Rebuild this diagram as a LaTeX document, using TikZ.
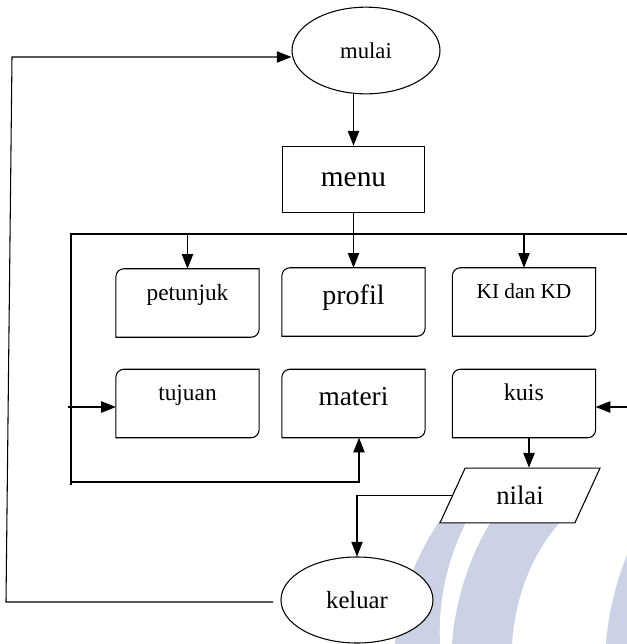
\documentclass[tikz,border=0pt]{standalone}
\usepackage{fontspec}
\setmainfont{Liberation Serif}
\usetikzlibrary{arrows.meta,shapes.geometric}
\definecolor{watermark}{RGB}{204,210,230}

\tikzset{
  garis/.style={line width=0.8pt},
  alur/.style={line width=0.8pt,-{Triangle[length=11pt,width=8.5pt]}},
  terminal/.style={ellipse,draw,line width=0.8pt,fill=white,inner sep=0pt},
  proses/.style={rectangle,draw,line width=0.8pt,minimum width=107pt,minimum height=50pt,inner sep=0pt},
  pilihan/.style={rectangle,minimum width=107pt,minimum height=51pt,inner sep=0pt},
  data/.style={trapezium,trapezium left angle=60,trapezium right angle=120,trapezium stretches=true,
    draw,line width=0.8pt,fill=white,minimum width=120pt,minimum height=41pt,inner sep=0pt}
}

\begin{document}
\begin{tikzpicture}[x=0.75pt,y=-0.75pt]
\useasboundingbox (0,0) rectangle (627,644);

%Shape: watermark
\fill[watermark] (440,520) .. controls (420,550) and (398,595) .. (395,644) -- (440,644) .. controls (438,600) and (447,560) .. (467,520) -- cycle;
\fill[watermark] (492,520) .. controls (470,555) and (455,600) .. (452,644) -- (512,644) .. controls (515,600) and (530,555) .. (562,520) -- cycle;
\fill[watermark] (627,555) .. controls (615,585) and (608,615) .. (606,644) -- (627,644) -- cycle;

%Shape: Ellipse
\node[terminal,minimum width=111pt,minimum height=65pt,font=\fontsize{17}{20}\selectfont] (mulai) at (366,50.5) {mulai};
%Shape: Rectangle
\node[proses,font=\fontsize{22}{26}\selectfont] (menu) at (353.5,179.5) {menu};

%Shape: Round Diagonal Corner Rectangle
\node[pilihan,font=\fontsize{17.5}{21}\selectfont,text height=12pt,text depth=15.8pt] (petunjuk) at (187.5,303) {petunjuk};
\node[pilihan,font=\fontsize{21}{25}\selectfont,text height=15pt,text depth=11.6pt] (profil) at (353.5,302) {profil};
\node[pilihan,font=\fontsize{16}{19}\selectfont,text height=11pt,text depth=16pt] (kikd) at (524,302) {KI dan KD};
\node[pilihan,font=\fontsize{17.5}{21}\selectfont,text height=12pt,text depth=15.8pt] (tujuan) at (187.5,403.5) {tujuan};
\node[pilihan,font=\fontsize{20.5}{24}\selectfont,text height=15pt,text depth=11.6pt] (materi) at (353.5,403.5) {materi};
\node[pilihan,font=\fontsize{18}{21}\selectfont,text height=12pt,text depth=15.8pt] (kuis) at (524,403.5) {kuis};
\foreach \n in {petunjuk,profil,kikd,tujuan,materi,kuis}
  \draw[garis] ([yshift=-6pt]\n.north west) arc[start angle=180,end angle=90,radius=6pt] -- (\n.north east)
    -- ([yshift=6pt]\n.south east) arc[start angle=0,end angle=-90,radius=6pt] -- (\n.south west) -- cycle;

%Shape: Parallelogram
\node[data,font=\fontsize{20}{24}\selectfont] (nilai) at (520,495.5) {nilai};
%Shape: Ellipse
\node[terminal,minimum width=114pt,minimum height=64.5pt,font=\fontsize{18.5}{22}\selectfont] (keluar) at (357,600) {keluar};

\coordinate (atasKiri) at (12,57);
\coordinate (bawahKiri) at (6,602);
\coordinate (keluarUjung) at (273,602);
\coordinate (cabangKiri) at (71,234);
\coordinate (cabangKanan) at (627,234);
\coordinate (cabangBawah) at (71,485);
\coordinate (dasarKiri) at (71,482);
\coordinate (dasarKanan) at (359,482);
\coordinate (tujuanMasuk) at (68,407);
\coordinate (kuisMasuk) at (627,407);

%Straight Lines
\draw[alur] (keluarUjung) -- (bawahKiri) -- (atasKiri) -- (atasKiri -| mulai.west);
\draw[alur] (menu.north |- mulai.south) -- (menu.north);
\draw[alur] (menu.south) -- (profil.north);
\draw[garis] (cabangBawah) -- (cabangKiri) -- (cabangKanan);
\draw[alur] (cabangKiri -| petunjuk.north) -- (petunjuk.north);
\draw[alur] (cabangKiri -| kikd.north) -- (kikd.north);
\draw[alur] (dasarKiri) -- (dasarKanan) -- (dasarKanan |- materi.south);
\draw[alur] (tujuanMasuk) -- (tujuanMasuk -| tujuan.west);
\draw[alur] (kuisMasuk) -- (kuisMasuk -| kuis.east);
\draw[alur] ([xshift=3.75pt]kuis.south) -- ([xshift=3.75pt]kuis.south |- nilai.north);
\draw[alur] (nilai.west) -| (keluar.north);

\end{tikzpicture}
\end{document}
